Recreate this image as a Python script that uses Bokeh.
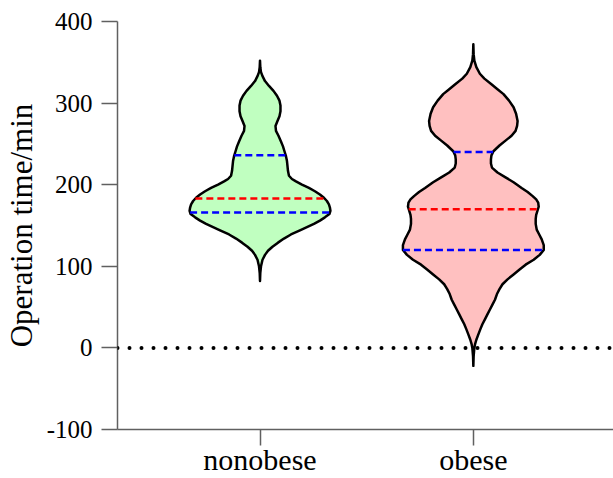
import numpy as np
from bokeh.plotting import figure
from bokeh.models import FixedTicker, Span, ColumnDataSource
from bokeh.embed import file_html
from bokeh.resources import INLINE

# ---- data ----
categories = ["nonobese", "obese"]

# violin profiles: value (min) and relative density (half width)
nonobese_values = [352, 344, 338, 333, 327, 321, 315, 309, 303, 297, 290, 284, 278, 272,
                   266, 260, 253, 247, 241, 235, 229, 223, 217, 211, 207, 204, 200, 196,
                   192, 188, 184, 180, 176, 172, 168, 164, 160, 156, 152, 148, 144, 139,
                   134, 129, 124, 119, 114, 108, 100, 92, 82]
nonobese_density = [0, 0.3, 1, 2.5, 5, 9, 13.5, 17, 19.5, 20.5, 20.5, 19.5, 17.5, 15.5,
                    16, 18.5, 21, 23, 24.5, 26, 27, 27.5, 28, 29, 32, 36, 42, 49,
                    55, 60, 64, 67, 69, 70, 70.5, 69.5, 65, 60, 54, 47, 40, 31,
                    24, 18, 12.5, 8, 5, 2.5, 1, 0.3, 0]

obese_values = [372, 360, 352, 344, 336, 330, 323, 317, 311, 303, 295, 287, 278, 272,
                266, 260, 254, 248, 241, 236, 231, 226, 221, 215, 209, 203, 196, 191,
                186, 182, 178, 173, 169, 163, 158, 152, 145, 139, 133, 126, 120, 114,
                108, 102, 96, 90, 84, 78, 72, 66, 59, 53, 47, 41, 35, 29, 23, 16, 10,
                5, 0, -10, -22]
obese_density = [0, 0.3, 1, 3, 6.5, 11, 18, 24, 30, 35.5, 40, 42.5, 44, 43.5,
                 42, 38, 32, 26, 20, 18, 17.5, 17.5, 18.5, 24, 32, 40, 48, 54,
                 59, 62.5, 64.5, 65, 64, 62.5, 62, 62, 63, 65.5, 68, 70, 70, 66,
                 60, 52, 46, 40, 34, 29, 26, 23.5, 21.5, 19, 16.5, 14, 11.5, 9, 7, 4.8, 3,
                 1.8, 1, 0.3, 0]

# quartiles: lower quartile, median, upper quartile
nonobese_quartiles = [166, 183, 236]
obese_quartiles = [120, 170, 240]

y_ticks = [-100, 0, 100, 200, 300, 400]
y_tick_labels = ["-100", "0", "100", "200", "300", "400"]
fill_colors = ["#c0ffc0", "#ffc0c0"]

# ---- figure ----
FONT = "Liberation Serif"
AXIS_GRAY = "#606060"
MAX_HALF = 0.33

p = figure(width=613, height=478, x_range=(0.332, 2.657), y_range=(-100, 400),
           output_backend="svg", toolbar_location=None,
           min_border_left=117, min_border_right=0, min_border_top=21, min_border_bottom=30)
p.grid.visible = False
p.outline_line_color = None
p.background_fill_color = "white"

# zero reference line (dotted)
p.add_layout(Span(location=0, dimension="width", line_color="black", line_width=4,
                  line_dash="0 12", line_cap="round"))

profiles = [(nonobese_values, nonobese_density, nonobese_quartiles),
            (obese_values, obese_density, obese_quartiles)]

for i, (vals, dens, quarts) in enumerate(profiles):
    center = i + 1
    vals = np.array(vals, dtype=float)
    dens = np.array(dens, dtype=float)
    half = dens / dens.max() * MAX_HALF
    xs = np.concatenate([center - half, (center + half)[::-1]])
    ys = np.concatenate([vals, vals[::-1]])
    p.patch(xs, ys, fill_color=fill_colors[i], line_color="black", line_width=2.5,
            line_join="round")
    order = np.argsort(vals)
    qh = np.interp(quarts, vals[order], half[order])
    src = ColumnDataSource(dict(x0=center - qh, x1=center + qh, y=quarts,
                                color=["blue", "red", "blue"]))
    p.segment(x0="x0", y0="y", x1="x1", y1="y", source=src, line_color="color",
              line_width=2.5, line_dash="7 4")

# axes
for ax in (p.xaxis[0], p.yaxis[0]):
    ax.axis_line_color = AXIS_GRAY
    ax.axis_line_width = 1.5
    ax.major_tick_line_color = AXIS_GRAY
    ax.major_tick_line_width = 1.5
    ax.major_tick_out = 16
    ax.major_tick_in = 0
    ax.minor_tick_out = 0
    ax.minor_tick_in = 0
    ax.major_label_text_font = FONT
    ax.major_label_text_color = "black"

p.xaxis.ticker = FixedTicker(ticks=[1, 2])
p.xaxis.major_label_overrides = {i + 1: c for i, c in enumerate(categories)}
p.xaxis.major_label_text_font_size = "30px"
p.xaxis.major_label_standoff = -3

p.yaxis.ticker = FixedTicker(ticks=y_ticks)
p.yaxis.major_label_overrides = dict(zip(y_ticks, y_tick_labels))
p.yaxis.major_label_text_font_size = "25px"
p.yaxis.major_label_standoff = 9
p.yaxis.axis_label = "Operation time/min"
p.yaxis.axis_label_text_font = FONT
p.yaxis.axis_label_text_font_size = "31px"
p.yaxis.axis_label_text_font_style = "normal"
p.yaxis.axis_label_text_color = "black"
p.yaxis.axis_label_standoff = 5

open("out.html", "w").write(file_html(p, INLINE))
